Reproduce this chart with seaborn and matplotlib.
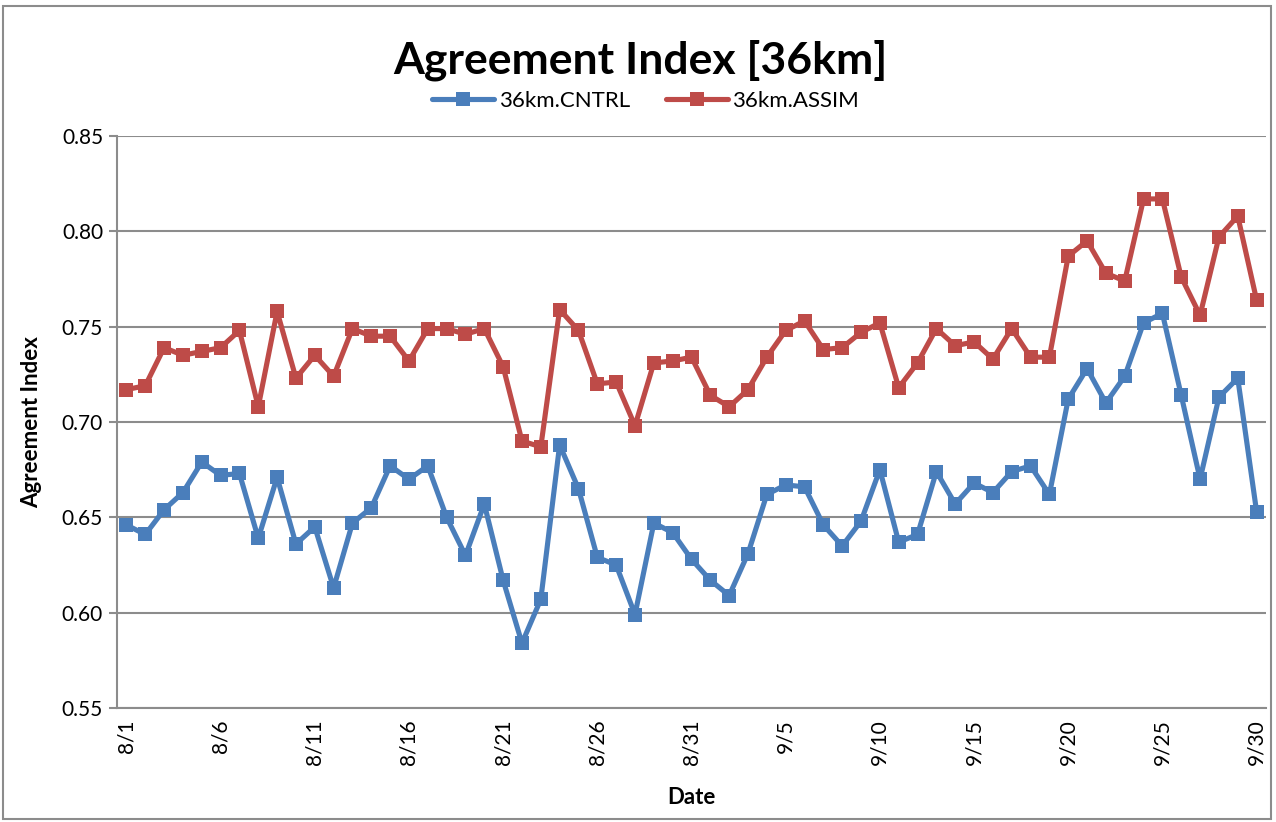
import matplotlib
matplotlib.use("Agg")
import matplotlib.pyplot as plt
import seaborn as sns
import pandas as pd
from matplotlib.patches import Rectangle

dates = [f"8/{d}" for d in range(1, 32)] + [f"9/{d}" for d in range(1, 31)]

cntrl = [0.646, 0.641, 0.654, 0.663, 0.679, 0.672, 0.673, 0.639, 0.671, 0.636,
         0.645, 0.613, 0.647, 0.655, 0.677, 0.670, 0.677, 0.650, 0.630, 0.657,
         0.617, 0.584, 0.607, 0.688, 0.665, 0.629, 0.625, 0.599, 0.647, 0.642,
         0.628, 0.617, 0.609, 0.631, 0.662, 0.667, 0.666, 0.646, 0.635, 0.648,
         0.675, 0.637, 0.641, 0.674, 0.657, 0.668, 0.663, 0.674, 0.677, 0.662,
         0.712, 0.728, 0.710, 0.724, 0.752, 0.757, 0.714, 0.670, 0.713, 0.723,
         0.653]

assim = [0.717, 0.719, 0.739, 0.735, 0.737, 0.739, 0.748, 0.708, 0.758, 0.723,
         0.735, 0.724, 0.749, 0.745, 0.745, 0.732, 0.749, 0.749, 0.746, 0.749,
         0.729, 0.690, 0.687, 0.759, 0.748, 0.720, 0.721, 0.698, 0.731, 0.732,
         0.734, 0.714, 0.708, 0.717, 0.734, 0.748, 0.753, 0.738, 0.739, 0.747,
         0.752, 0.718, 0.731, 0.749, 0.740, 0.742, 0.733, 0.749, 0.734, 0.734,
         0.787, 0.795, 0.778, 0.774, 0.817, 0.817, 0.776, 0.756, 0.797, 0.808,
         0.764]

series_names = ["36km.CNTRL", "36km.ASSIM"]
colors = ["#4A7EBB", "#BE4B48"]
yticks = [0.55, 0.60, 0.65, 0.70, 0.75, 0.80, 0.85]

df = pd.DataFrame({
    "idx": list(range(len(dates))) * 2,
    "value": cntrl + assim,
    "series": [series_names[0]] * len(dates) + [series_names[1]] * len(dates),
})

sns.set_style("white")
plt.rcParams["font.family"] = ["Lato", "DejaVu Sans"]
plt.rcParams["text.color"] = "black"
plt.rcParams["axes.labelcolor"] = "black"
plt.rcParams["xtick.color"] = "black"
plt.rcParams["ytick.color"] = "black"

fig = plt.figure(figsize=(12.76, 8.22), dpi=100)
ax = fig.add_axes([117 / 1276, 1 - 708 / 822, (1266 - 117) / 1276, (708 - 136) / 822])

sns.lineplot(data=df, x="idx", y="value", hue="series", style="series",
             markers=["s", "s"], dashes=False, palette=colors, linewidth=3.7,
             markersize=10, markeredgewidth=0, ax=ax, legend=True)

ax.set_xlim(-0.5, len(dates) - 0.5)
ax.set_ylim(0.55, 0.85)
ax.set_yticks(yticks)
ax.set_yticklabels([f"{v:.2f}" for v in yticks], fontsize=15)
tick_pos = list(range(0, len(dates), 5))
ax.set_xticks(tick_pos)
ax.set_xticklabels([dates[i] for i in tick_pos], rotation=90, fontsize=15)
ax.grid(axis="y", color="#8C8C8C", linewidth=1.5)
ax.grid(axis="x", visible=False)
for s in ["top", "right"]:
    ax.spines[s].set_visible(False)
ax.spines["left"].set_color("#8C8C8C")
ax.spines["left"].set_linewidth(1.5)
ax.spines["bottom"].set_color("#8C8C8C")
ax.spines["bottom"].set_linewidth(1.5)
ax.tick_params(axis="y", length=6, width=1.5, color="#8C8C8C", labelcolor="black", left=True, pad=4)
ax.tick_params(axis="x", length=0, pad=8, labelcolor="black")

ax.set_xlabel("Date", fontsize=16, fontweight="bold", labelpad=16, color="black")
ax.set_ylabel("Agreement Index", fontsize=16, fontweight="bold", labelpad=14, color="black")

fig.text(0.502, 1 - 60 / 822, "Agreement Index [36km]",
         ha="center", va="center", fontsize=32, fontweight="bold", color="black")

handles, labels = ax.get_legend_handles_labels()
ax.legend(handles, labels, loc="center", bbox_to_anchor=(0.506, 1 - 101 / 822),
          bbox_transform=fig.transFigure, ncol=2, frameon=False, fontsize=16,
          handlelength=2.8, columnspacing=1.6, handletextpad=0.2)

fig.patches.append(Rectangle((3 / 1276, 3 / 822), 1268 / 1276, 813 / 822,
                             transform=fig.transFigure, fill=False,
                             edgecolor="#8C8C8C", linewidth=1.5))

fig.savefig("out.png", dpi=100)
